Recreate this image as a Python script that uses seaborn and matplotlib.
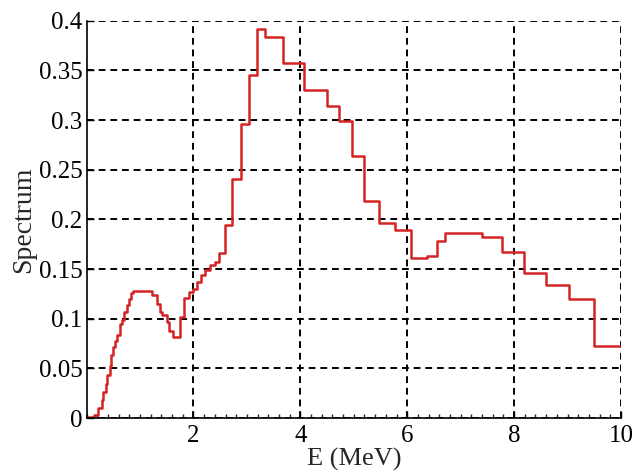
import matplotlib
matplotlib.use("Agg")
import matplotlib.pyplot as plt
import seaborn as sns
import pandas as pd
from matplotlib.ticker import MultipleLocator, FuncFormatter

# Bin left edges (MeV) and spectrum values
edges = [0.00, 0.13, 0.22, 0.28, 0.31, 0.36, 0.39, 0.43, 0.46, 0.50, 0.53, 0.57,
         0.63, 0.66, 0.70, 0.75, 0.80, 0.84, 0.87, 1.22, 1.32, 1.37, 1.42, 1.50,
         1.55, 1.62, 1.75, 1.83, 1.92, 1.99, 2.07, 2.14, 2.22, 2.31, 2.40, 2.48,
         2.59, 2.73, 2.89, 3.03, 3.19, 3.33, 3.67, 4.06, 4.50, 4.73, 4.96, 5.20,
         5.48, 5.78, 6.07, 6.37, 6.56, 6.70, 7.40, 7.77, 8.18, 8.60, 9.03, 9.49]
values = [0.001, 0.003, 0.010, 0.018, 0.026, 0.034, 0.043, 0.052, 0.063, 0.071, 0.078, 0.084,
          0.095, 0.099, 0.107, 0.114, 0.120, 0.126, 0.128, 0.124, 0.115, 0.107, 0.104, 0.097,
          0.088, 0.082, 0.102, 0.121, 0.127, 0.130, 0.137, 0.144, 0.149, 0.154, 0.157, 0.166,
          0.194, 0.241, 0.296, 0.345, 0.392, 0.384, 0.357, 0.330, 0.314, 0.299, 0.264, 0.218,
          0.196, 0.189, 0.161, 0.163, 0.178, 0.186, 0.182, 0.167, 0.146, 0.134, 0.120, 0.073]
x_end = 10.0

x_ticks = [2, 4, 6, 8, 10]
y_ticks = [0, 0.05, 0.1, 0.15, 0.2, 0.25, 0.3, 0.35, 0.4]

df = pd.DataFrame({"E": edges + [x_end], "S": values + [values[-1]]})

sns.set_style("ticks")
plt.rcParams["font.family"] = ["Liberation Serif", "DejaVu Serif"]
plt.rcParams["xtick.direction"] = "in"
plt.rcParams["ytick.direction"] = "in"

fig = plt.figure(figsize=(6.34, 4.74), dpi=100)
ax = fig.add_axes([0.1366, 0.1181, 0.9795 - 0.1366, 0.9563 - 0.1181])

sns.lineplot(data=df, x="E", y="S", ax=ax, drawstyle="steps-post",
             color="#d42424", linewidth=1.8, estimator=None, sort=False)

ax.set_xlim(0, 10)
ax.set_ylim(0, 0.4)
ax.set_xticks(x_ticks)
ax.set_yticks(y_ticks)
ax.xaxis.set_minor_locator(MultipleLocator(0.2))
ax.yaxis.set_major_formatter(FuncFormatter(lambda v, p: f"{v:g}"))

ax.grid(True, which="major", color="black", linestyle=(0, (3.5, 2.5)), linewidth=1.4)
ax.set_axisbelow(True)

for s in ["top", "right"]:
    ax.spines[s].set_visible(False)
for s in ["left", "bottom"]:
    ax.spines[s].set_color("black")
    ax.spines[s].set_linewidth(1.2)

ax.tick_params(axis="both", which="major", labelsize=18, length=5, width=1, colors="black")
ax.tick_params(axis="x", which="minor", length=3, width=1)
ax.tick_params(axis="x", pad=5)
ax.tick_params(axis="y", pad=3)

ax.set_xlabel("E (MeV)", fontsize=19, labelpad=1)
ax.set_ylabel("Spectrum", fontsize=20, labelpad=2)

fig.savefig("out.png", dpi=100)
